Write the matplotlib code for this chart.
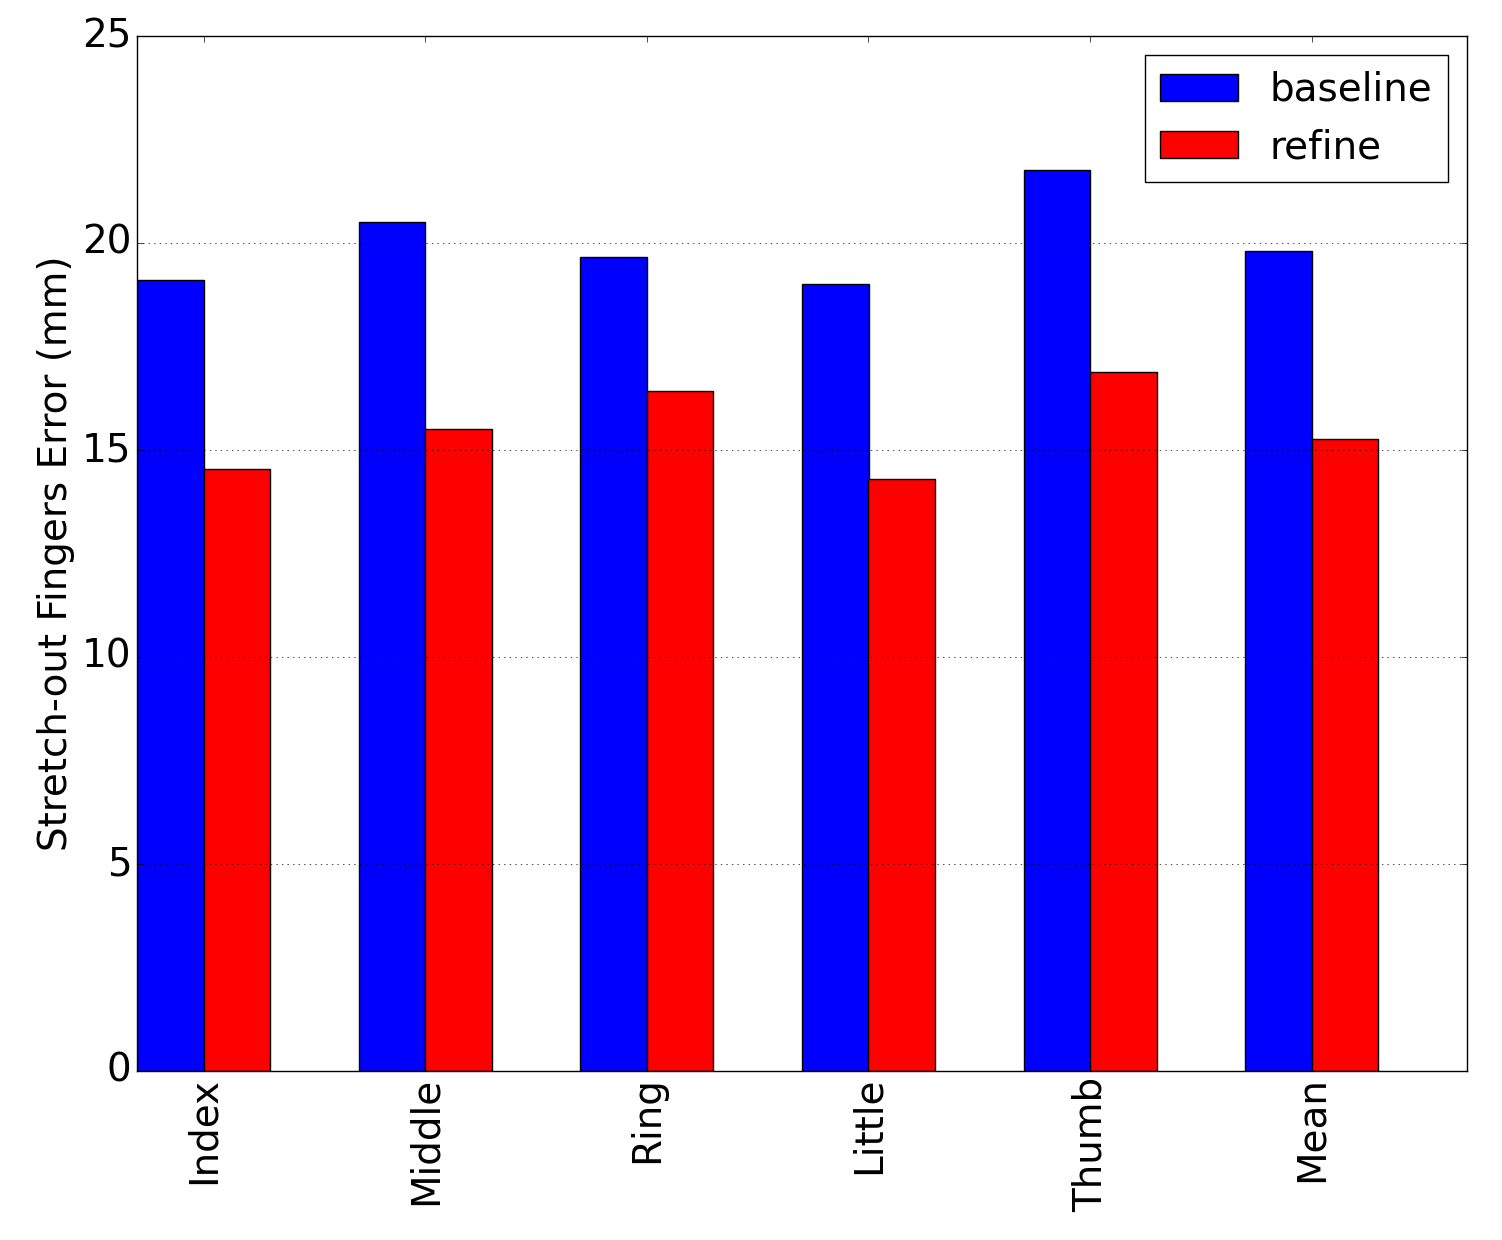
import matplotlib

matplotlib.use("Agg")
import matplotlib.pyplot as plt
import numpy as np

fingers = ["Index", "Middle", "Ring", "Little", "Thumb", "Mean"]
baseline = [19.10, 20.50, 19.66, 19.00, 21.76, 19.80]
refine = [14.53, 15.50, 16.42, 14.31, 16.88, 15.26]

plt.style.use("classic")
plt.rcParams["font.size"] = 28

fig = plt.figure(figsize=(15.02, 12.4), dpi=100)
ax = fig.add_axes([137 / 1502, 1 - 1071 / 1240, 1330 / 1502, 1035 / 1240])

x = np.arange(len(fingers))
width = 0.3
ax.bar(x, baseline, width, color="b", label="baseline", align="edge")
ax.bar(x + width, refine, width, color="r", label="refine", align="edge")

ax.set_xlim(0, len(fingers))
ax.set_ylim(0, 25)
ax.set_xticks(x + width)
ax.set_xticklabels(fingers, rotation=90)
ax.set_ylabel("Stretch-out Fingers Error (mm)")
ax.yaxis.grid(True)
ax.legend(loc="upper right", fontsize=28)

fig.savefig("out.png", dpi=100)
